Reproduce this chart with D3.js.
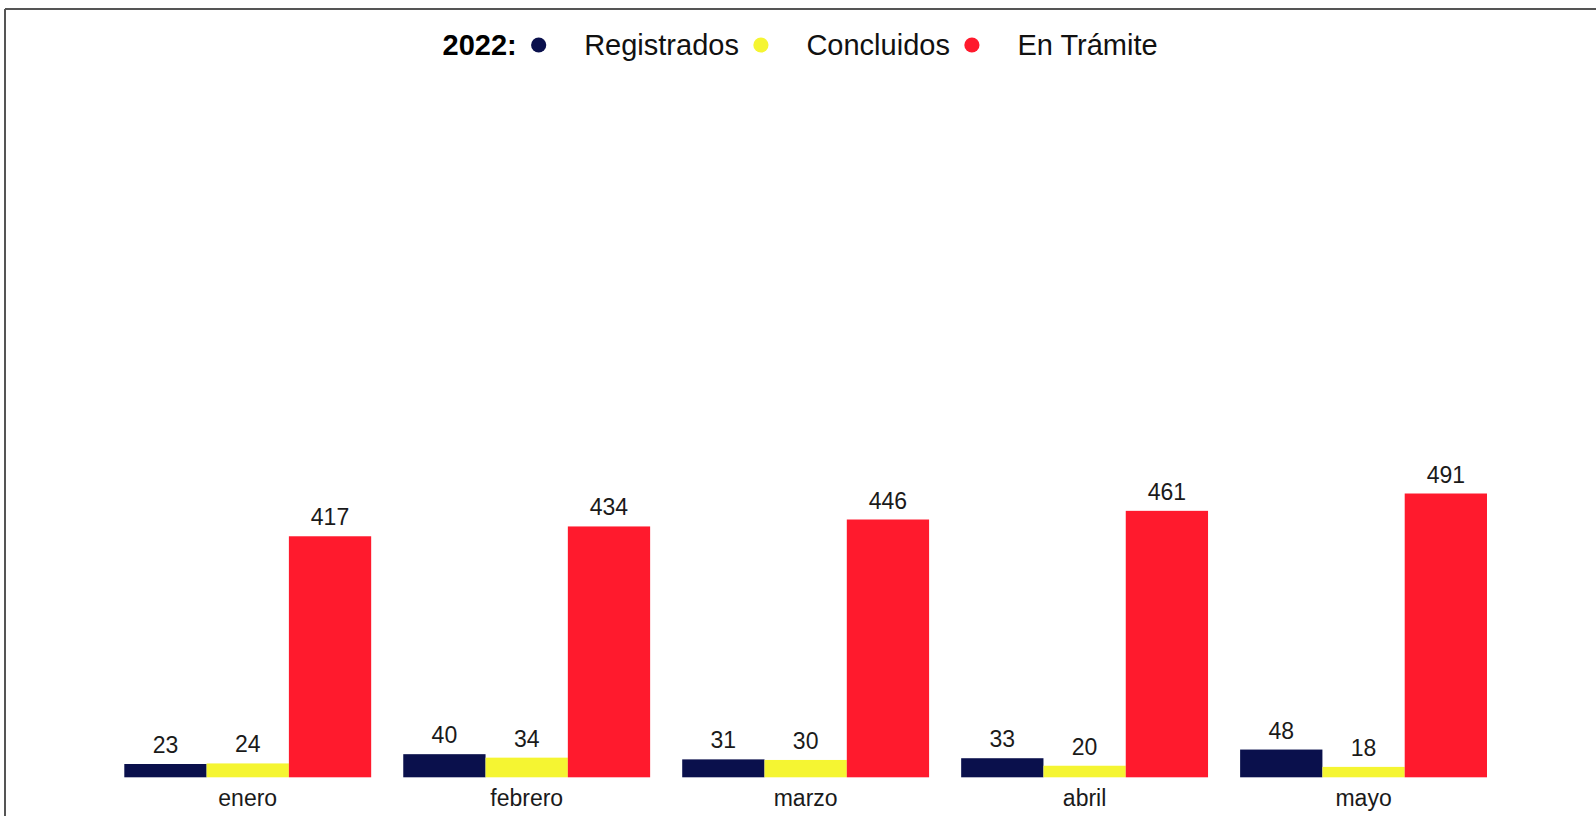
<!DOCTYPE html>
<html>
<head>
<meta charset="utf-8">
<script src="https://cdn.jsdelivr.net/npm/d3@7"></script>
<style>
  html, body { margin: 0; padding: 0; background: #fff; }
  svg { display: block; font-family: "Liberation Sans", Arial, sans-serif; }
</style>
</head>
<body>
<svg id="chart" width="1596" height="816"></svg>
<script>
const months = ["enero", "febrero", "marzo", "abril", "mayo"];
const seriesNames = ["Registrados", "Concluidos", "En Trámite"];
const registrados = [23, 40, 31, 33, 48];
const concluidos = [24, 34, 30, 20, 18];
const enTramite = [417, 434, 446, 461, 491];
const seriesColors = ["#0a104c", "#f5f532", "#ff1a2d"];
const legendTitle = "2022:";

const svg = d3.select("#chart");
const W = 1596, H = 816;

// frame (top and left edges visible)
svg.append("rect").attr("x", 0).attr("y", 0).attr("width", W).attr("height", H).attr("fill", "#fff");
svg.append("line").attr("x1", 5).attr("x2", W).attr("y1", 9).attr("y2", 9)
  .attr("stroke", "#555").attr("stroke-width", 2);
svg.append("line").attr("x1", 5).attr("x2", 5).attr("y1", 9).attr("y2", H)
  .attr("stroke", "#555").attr("stroke-width", 2);

const data = months.map((m, i) => ({
  month: m,
  values: [registrados[i], concluidos[i], enTramite[i]]
}));

const x0 = d3.scaleBand().domain(months).range([124.3, 1487]).paddingInner(0.115).paddingOuter(0);
const x1 = d3.scaleBand().domain(seriesNames).range([0, x0.bandwidth()]).padding(0);
const baseY = 777.3;
const y = d3.scaleLinear().domain([0, 500]).range([baseY, baseY - 289]);
const color = d3.scaleOrdinal().domain(seriesNames).range(seriesColors);

const g = svg.append("g");
const groups = g.selectAll("g.grp").data(data).join("g")
  .attr("class", "grp")
  .attr("transform", d => `translate(${x0(d.month)},0)`);

groups.selectAll("rect").data(d => d.values.map((v, k) => ({ name: seriesNames[k], v })))
  .join("rect")
  .attr("x", d => x1(d.name))
  .attr("width", x1.bandwidth())
  .attr("y", d => y(d.v))
  .attr("height", d => baseY - y(d.v))
  .attr("fill", d => color(d.name));

groups.selectAll("text.val").data(d => d.values.map((v, k) => ({ name: seriesNames[k], v })))
  .join("text")
  .attr("class", "val")
  .attr("x", d => x1(d.name) + x1.bandwidth() / 2)
  .attr("y", d => y(d.v) - 11)
  .attr("text-anchor", "middle")
  .attr("font-size", 23)
  .attr("fill", "#1a1a1a")
  .text(d => d.v);

// x axis labels
const xAxis = d3.axisBottom(x0).tickSize(0).tickPadding(0);
const ax = svg.append("g").attr("transform", `translate(0,${baseY})`).call(xAxis);
ax.select(".domain").remove();
ax.selectAll("text")
  .attr("font-size", 23)
  .attr("font-family", "Liberation Sans, Arial, sans-serif")
  .attr("fill", "#1a1a1a")
  .attr("dy", null)
  .attr("y", 28.5);

// legend
const leg = svg.append("g");
const legY = 55;
const legFont = 29;
let cx = 442.5;
const t0 = leg.append("text").attr("x", cx).attr("y", legY)
  .attr("font-size", legFont).attr("font-weight", "bold").attr("fill", "#000").text(legendTitle);
cx += t0.node().getComputedTextLength();
seriesNames.forEach((name, k) => {
  const dotX = cx + 22;
  leg.append("circle").attr("cx", dotX).attr("cy", 45).attr("r", 7.6).attr("fill", seriesColors[k]);
  const tx = dotX + 45.5;
  const t = leg.append("text").attr("x", tx).attr("y", legY)
    .attr("font-size", legFont).attr("fill", "#111").text(name);
  cx = tx + t.node().getComputedTextLength();
});
</script>
</body>
</html>
